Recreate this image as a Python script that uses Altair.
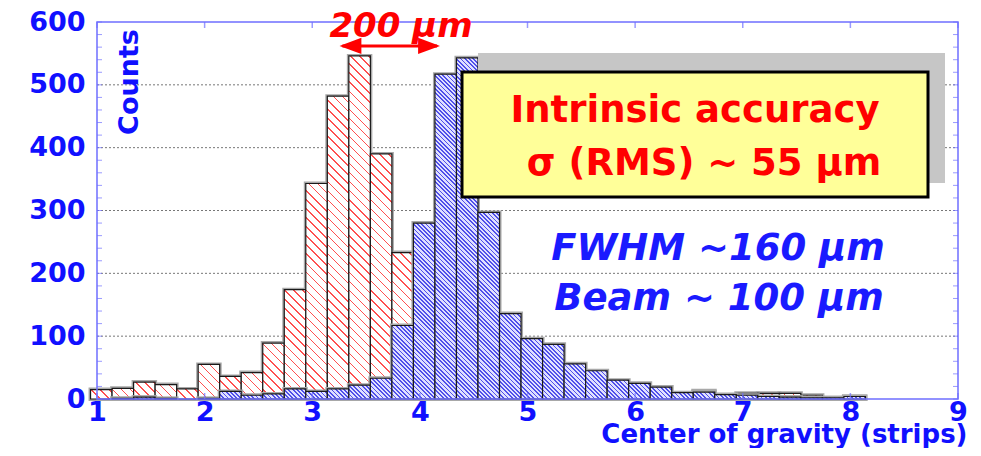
import math
import altair as alt

# ---------------- data ----------------
BIN_START = 0.94          # left edge of the first bin (strips)
BIN_WIDTH = 0.2           # bin width (strips)
RED_COUNTS = [15, 17, 27, 23, 16, 55, 36, 42, 89, 174, 343, 482, 546, 390, 233,
              110, 45, 25, 15, 12, 10, 10, 8, 8, 6, 8, 6, 8, 13, 5, 9, 9, 9, 6, 2, 4]
BLUE_COUNTS = [0, 1, 3, 1, 0, 1, 12, 6, 8, 16, 12, 16, 22, 33, 117,
               280, 517, 543, 297, 136, 96, 87, 56, 45, 30, 25, 19, 10, 11, 7, 6, 4, 3, 2, 2, 4]
X_TICKS = [1, 2, 3, 4, 5, 6, 7, 8, 9]
Y_TICKS = [0, 100, 200, 300, 400, 500, 600]
Y_GRID = [100, 200, 300, 400, 500]
Y_MINOR = [0, 20, 40, 60, 80, 100, 120, 140, 160, 180, 200, 220, 240, 260, 280, 300,
           320, 340, 360, 380, 400, 420, 440, 460, 480, 500, 520, 540, 560, 580, 600]
ARROW_X = [3.28, 4.16]
ARROW_Y = 562

# ---------------- layout / style ----------------
W, H = 861, 377
PX_X = W / 8.0
PX_Y = H / 600.0
AXIS_BLUE = "#1010ff"
TEXT_BLUE = "#1a1aff"
FRAME = "#6f6fff"
RED = "#ff0000"
FONT = "DejaVu Sans"


def hatch(w, h, period, lw, line, bg, flat):
    """Diagonal hatching as a linear gradient in the bar's bounding box."""
    if h < 0.8:
        return flat
    total = w + h
    k = total * w / (w * w + h * h)
    P = period * math.sqrt(2)
    L = lw * math.sqrt(2)
    stops = []
    s = 0.0
    while s < total:
        a = s / total
        b = min((s + L) / total, 1.0)
        c = min((s + P) / total, 1.0)
        stops += [{"offset": round(a, 6), "color": line},
                  {"offset": round(b, 6), "color": line},
                  {"offset": round(b, 6), "color": bg},
                  {"offset": round(c, 6), "color": bg}]
        s += P
    return {"gradient": "linear", "x1": 0, "y1": 1,
            "x2": round(k, 6), "y2": round(1 - k * h / w, 6), "stops": stops}


def table(counts, period, lw, line, bg, flat):
    rows = []
    for i, v in enumerate(counts):
        if v <= 0:
            continue
        lo = BIN_START + BIN_WIDTH * i
        rows.append({"lo": lo, "hi": lo + BIN_WIDTH, "count": v,
                     "g": hatch(BIN_WIDTH * PX_X, v * PX_Y, period, lw, line, bg, flat)})
    return alt.Data(values=rows)


red_data = table(RED_COUNTS, 6.4, 1.0, "#ff5050", "#ffffff", "#ffc0c0")
blue_data = table(BLUE_COUNTS, 3.0, 1.25, "#5050ea", "#e0e0ff", "#9a9af0")

x_scale = alt.Scale(domain=[1, 9], nice=False, zero=False)
y_scale = alt.Scale(domain=[0, 600], nice=False)

x_axis = alt.Axis(orient="bottom", values=X_TICKS, labelFontSize=27, labelColor=AXIS_BLUE,
                  labelFont=FONT, labelFontWeight="bold", labelPadding=0, tickSize=0,
                  labelFlush=False, labelOverlap=False,
                  domain=False, grid=False, title="Center of gravity (strips)",
                  titleFont=FONT, titleFontWeight="bold", titleFontSize=26,
                  titleColor=AXIS_BLUE, titleX=870, titleY=43, titleAlign="right",
                  titleBaseline="alphabetic")
y_axis = alt.Axis(orient="left", values=Y_TICKS, labelFontSize=27, labelColor=AXIS_BLUE,
                  labelFont=FONT, labelFontWeight="bold", labelPadding=12, tickSize=0,
                  labelFlush=False, labelOverlap=False,
                  domain=False, grid=False, title=None)

one = alt.Data(values=[{"a": 1}])

grid = alt.Chart(alt.Data(values=[{"v": v} for v in Y_GRID])).mark_rule(
    color="#777777", strokeDash=[2, 2], strokeWidth=1
).encode(y=alt.Y("v:Q", scale=y_scale, axis=None),
         x=alt.value(0), x2=alt.value(W))


def bar_layers(data, with_axes):
    enc = dict(
        x=alt.X("lo:Q", scale=x_scale, axis=x_axis if with_axes else None),
        x2="hi:Q",
        y=alt.Y("count:Q", scale=y_scale, axis=y_axis if with_axes else None, stack=None),
        y2=alt.datum(0),
    )
    halo = alt.Chart(data).mark_bar(fillOpacity=0, stroke="#a8a8a8", strokeWidth=4).encode(**enc)
    enc2 = dict(enc)
    enc2["x"] = alt.X("lo:Q", scale=x_scale, axis=None)
    enc2["y"] = alt.Y("count:Q", scale=y_scale, axis=None, stack=None)
    bars = alt.Chart(data).mark_bar(stroke="#1a1a1a", strokeWidth=1.2).encode(
        fill=alt.Fill("g:N", scale=None, legend=None), **enc2)
    return [halo, bars]


minor_data = alt.Data(values=[{"v": v} for v in Y_MINOR])
xt_data = alt.Data(values=[{"v": v} for v in X_TICKS])
tick_left = alt.Chart(minor_data).mark_tick(color=FRAME, thickness=1, size=5, orient="horizontal").encode(
    y=alt.Y("v:Q", scale=y_scale, axis=None), x=alt.value(2.5))
tick_right = alt.Chart(minor_data).mark_tick(color=FRAME, thickness=1, size=5, orient="horizontal").encode(
    y=alt.Y("v:Q", scale=y_scale, axis=None), x=alt.value(W - 2.5))
tick_top = alt.Chart(xt_data).mark_tick(color=FRAME, thickness=1.5, size=6, orient="vertical").encode(
    x=alt.X("v:Q", scale=x_scale, axis=None), y=alt.value(3))
tick_bottom = alt.Chart(xt_data).mark_tick(color=FRAME, thickness=1.5, size=6, orient="vertical").encode(
    x=alt.X("v:Q", scale=x_scale, axis=None), y=alt.value(H - 3))

frame = alt.Chart(one).mark_rect(fillOpacity=0, stroke=FRAME, strokeWidth=1.5).encode(
    x=alt.value(0), x2=alt.value(W), y=alt.value(0), y2=alt.value(H))

arrow_data = alt.Data(values=[{"x0": ARROW_X[0], "x1": ARROW_X[1], "y": ARROW_Y}])
arrow_line = alt.Chart(arrow_data).mark_rule(color=RED, strokeWidth=3).encode(
    x=alt.X("x0:Q", scale=x_scale, axis=None), x2="x1:Q",
    y=alt.Y("y:Q", scale=y_scale, axis=None))
arrow_left = alt.Chart(arrow_data).mark_point(
    shape="M-1,0L1,-0.75L1,0.75Z", filled=True, fill=RED, stroke=RED, size=324, opacity=1, xOffset=9
).encode(x=alt.X("x0:Q", scale=x_scale, axis=None), y=alt.Y("y:Q", scale=y_scale, axis=None))
arrow_right = alt.Chart(arrow_data).mark_point(
    shape="M1,0L-1,-0.75L-1,0.75Z", filled=True, fill=RED, stroke=RED, size=324, opacity=1, xOffset=-9
).encode(x=alt.X("x1:Q", scale=x_scale, axis=None), y=alt.Y("y:Q", scale=y_scale, axis=None))

shadow = alt.Chart(one).mark_rect(fill="#c6c6c6").encode(
    x=alt.value(381), x2=alt.value(848), y=alt.value(31), y2=alt.value(161))
box = alt.Chart(one).mark_rect(fill="#ffff99", stroke="#000000", strokeWidth=3).encode(
    x=alt.value(365), x2=alt.value(831), y=alt.value(50), y2=alt.value(175))


def label(text, x, y, size, color, italic=False, angle=0):
    return alt.Chart(one).mark_text(
        text=text, font=FONT, fontSize=size, fontWeight="bold",
        fontStyle="italic" if italic else "normal", color=color,
        align="center", baseline="alphabetic" if angle == 0 else "middle", angle=angle
    ).encode(x=alt.value(x), y=alt.value(y))


texts = [
    label("Counts", 33, 60, 27, AXIS_BLUE, angle=270),
    label("200 μm", 304, 15, 34, RED, italic=True),
    label("Intrinsic accuracy", 598, 100, 37, RED),
    label("σ (RMS) ~ 55 μm", 607, 153, 37, RED),
    label("FWHM ~160 μm", 621, 238, 37, TEXT_BLUE, italic=True),
    label("Beam ~ 100 μm", 622, 288, 37, TEXT_BLUE, italic=True),
]

layers = ([grid] + bar_layers(red_data, True) + bar_layers(blue_data, False)
          + [tick_left, tick_right, tick_top, tick_bottom, frame,
             arrow_line, arrow_left, arrow_right, shadow, box] + texts)

chart = alt.layer(*layers).resolve_axis(x="independent", y="independent").properties(
    width=W, height=H,
    autosize=alt.AutoSizeParams(type="none"),
    padding={"left": 89, "top": 14, "right": 15, "bottom": 49},
    background="white",
).configure_view(stroke=None)

chart.save("out.html", embed_options={"renderer": "svg", "actions": False})
